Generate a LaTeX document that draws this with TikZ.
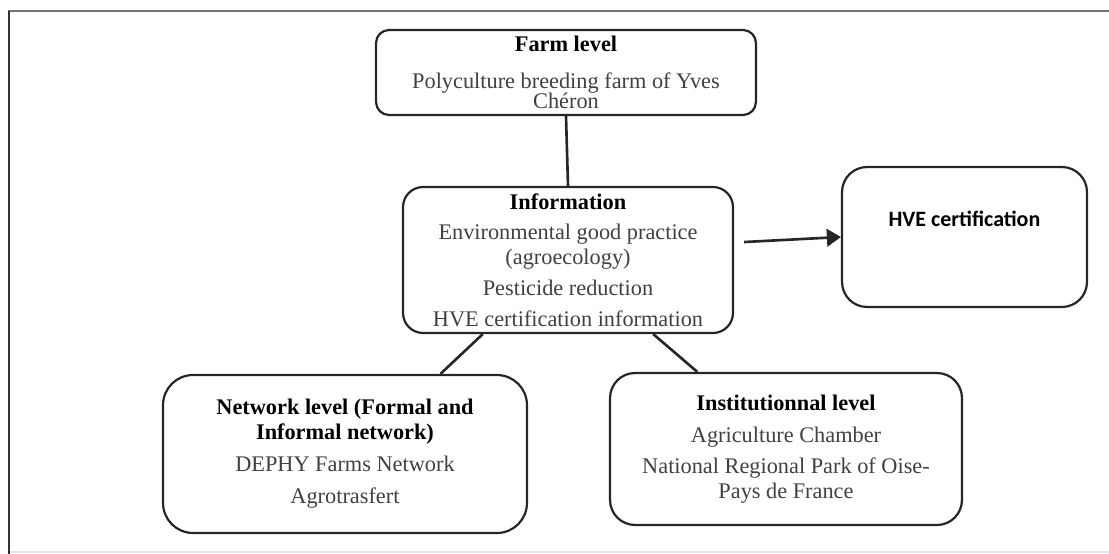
\documentclass[tikz,border=0pt]{standalone}
\usepackage{fontspec}
\setmainfont{Liberation Serif}
\newfontfamily\calibri{Carlito}
\usetikzlibrary{arrows.meta}

\tikzset{
  box/.style={draw=black!85, line width=1.25pt, rounded corners=0.45cm, align=center,
    inner sep=0pt, text=black!75, font=\fontsize{12.7}{14.2}\selectfont},
  link/.style={line width=1.5pt, black!85},
}
\newcommand{\hd}[1]{{\color{black}\textbf{#1}}}

\begin{document}
\begin{tikzpicture}[x=0.02cm,y=-0.02cm]
    \useasboundingbox (0,0) rectangle (1109,554);
    % page frame
    \draw[line width=1.2pt, black!55](8,11)--(1109,11);
    \draw[line width=1.6pt, black!80](9,11)--(9,554);
    \draw[line width=0.6pt, black!10](10,552)--(1109,552);

    \node[box, rounded corners=0.26cm, minimum width=7.6cm, minimum height=1.7cm] (farm) at (566,72.5)
        {\hd{Farm level}\\[7pt] Polyculture breeding farm of Yves\\[-3pt] Chéron};
    \node[box, rounded corners=0.4cm, minimum width=6.6cm, minimum height=2.92cm] (info) at (568,260)
        {\hd{Information}\\[3.4pt] Environmental good practice\\ (agroecology)\\[3pt]
         Pesticide reduction\\[3.6pt] HVE certification information};
    \node[box, rounded corners=0.5cm, minimum width=4.9cm, text height=1.18cm, text depth=1.62cm,
          text=black, font=\calibri\bfseries\fontsize{12.5}{14}\selectfont] (hve) at (964.5,237)
        {HVE certification};
    \node[box, rounded corners=0.6cm, minimum width=7.28cm, minimum height=3.16cm] (net) at (345,454)
        {\hd{Network level (Formal and}\\ \hd{Informal network)}\\[4pt] DEPHY Farms Network\\[4pt] Agrotrasfert};
    \node[box, rounded corners=0.5cm, minimum width=7.04cm, minimum height=3.04cm] (inst) at (786,449)
        {\hd{Institutionnal level}\\[4pt] Agriculture Chamber\\[3.5pt] National Regional Park of Oise-\\ Pays de France};

    \draw[link](farm.south)--(info.north);
    \draw[link](info.221.3)--(net.40.6);
    \draw[link](info.319)--(inst.139.5);
    \draw[link, -{Triangle[length=8pt,width=10pt]}, shorten <=0.2cm](info.6.9)--(hve.west);
\end{tikzpicture}
\end{document}
